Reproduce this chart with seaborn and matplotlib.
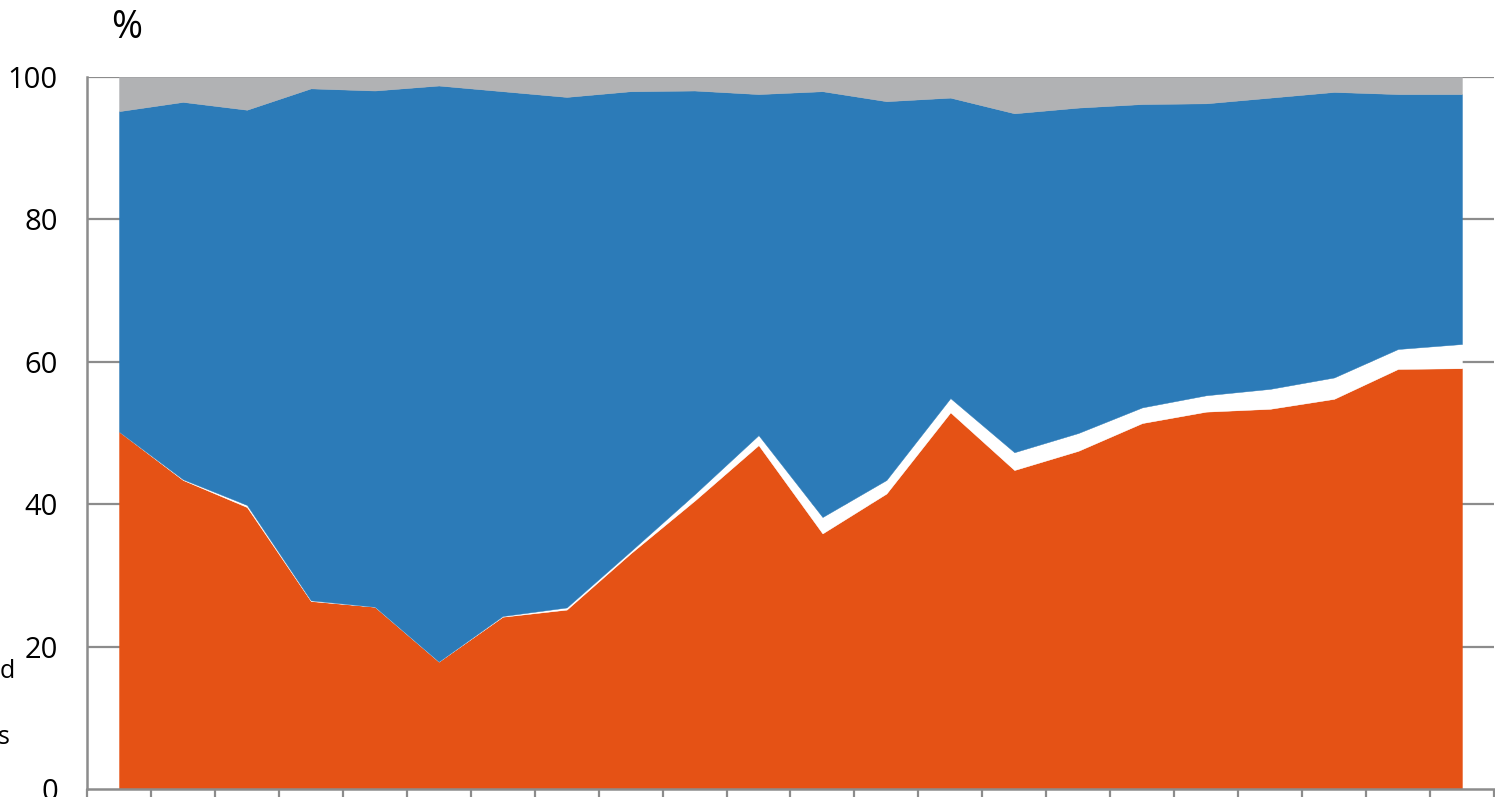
import matplotlib
matplotlib.use("Agg")
import matplotlib.pyplot as plt
import numpy as np
import seaborn as sns

# one point per period, 22 periods (no x labels visible in the chart)
periods = list(range(22))

# cumulative tops of each band, in %
orange_top = [50.2, 43.4, 39.6, 26.4, 25.6, 17.9, 24.2, 25.2, 33.1, 40.5, 48.3,
              35.9, 41.5, 52.9, 44.8, 47.5, 51.4, 53.0, 53.4, 54.8, 59.0, 59.1]
white_top = [50.2, 43.5, 39.9, 26.5, 25.6, 17.9, 24.3, 25.5, 33.4, 41.4, 49.7,
             38.2, 43.4, 54.9, 47.3, 50.0, 53.6, 55.3, 56.2, 57.8, 61.8, 62.5]
blue_top = [95.2, 96.5, 95.4, 98.4, 98.1, 98.8, 98.0, 97.2, 98.0, 98.1, 97.6,
            98.0, 96.6, 97.1, 94.9, 95.7, 96.2, 96.3, 97.1, 97.9, 97.6, 97.6]

band_colors = ["#E55215", "#FFFFFF", "#2C7BB8", "#B1B2B4"]
axis_grey = "#8C8C8C"


def bands():
    o = np.array(orange_top)
    w = np.array(white_top)
    b = np.array(blue_top)
    return [o, w - o, b - w, 100 - b]


def main():
    sns.set_style("white")
    plt.rcParams["font.family"] = ["Open Sans", "DejaVu Sans"]
    plt.rcParams["text.color"] = "black"
    plt.rcParams["ytick.labelcolor"] = "black"

    fig = plt.figure(figsize=(14.95, 7.97), dpi=100)
    ax = fig.add_axes([0.0582, 0.0100, 0.9411, 0.8934])

    for y in [20, 40, 60, 80, 100]:
        ax.axhline(y, color=axis_grey, lw=1.6, zorder=0)

    polys = ax.stackplot(periods, *bands(), colors=band_colors, linewidth=0, zorder=2)
    for p in polys:
        p.set_edgecolor("face")
        p.set_linewidth(0.3)

    ax.set_xlim(-0.5, 21.5)
    ax.set_ylim(0, 100)
    ax.set_yticks([0, 20, 40, 60, 80, 100])
    ax.set_xticks(np.arange(-0.5, 22, 1.0))
    ax.set_xticklabels([])
    ax.tick_params(axis="y", left=False, length=0, pad=21, labelsize=21,
                   labelcolor="black")
    ax.tick_params(axis="x", bottom=True, length=12, width=1.6, color=axis_grey,
                   direction="out")

    sns.despine(ax=ax, top=True, right=True)
    for side in ["left", "bottom"]:
        ax.spines[side].set_color(axis_grey)
        ax.spines[side].set_linewidth(1.8)
        ax.spines[side].set_zorder(3)

    fig.text(127 / 1495, 1 - 28 / 797, "%", fontsize=27, ha="center", va="center")
    # partly hidden legend words at the left edge
    fig.text(15 / 1495, 1 - 672 / 797, "d", fontsize=18, ha="right", va="center")
    fig.text(10 / 1495, 1 - 737 / 797, "s", fontsize=18, ha="right", va="center")

    fig.savefig("out.png", dpi=100)
    plt.close(fig)


if __name__ == "__main__":
    main()
